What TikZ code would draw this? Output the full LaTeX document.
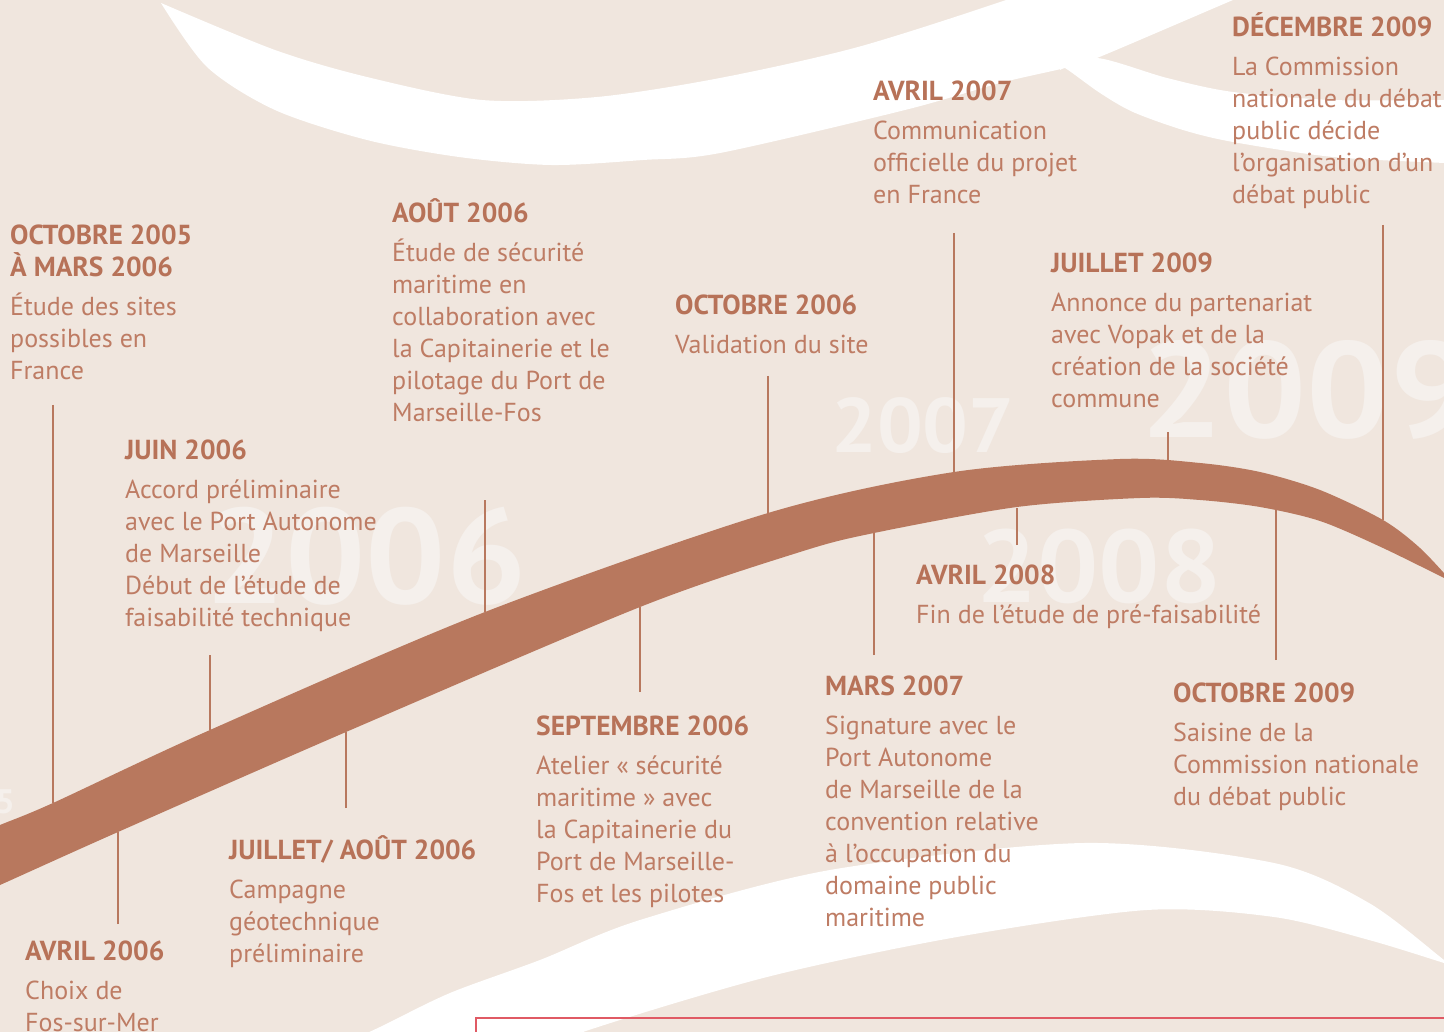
\documentclass[tikz,border=0pt]{standalone}
\usepackage{fontspec}
\setmainfont{PT Sans}
\usepackage{xcolor}
\definecolor{paper}{RGB}{240,230,222}
\definecolor{ribbon}{RGB}{184,120,94}
\definecolor{headtxt}{RGB}{183,114,88}
\definecolor{bodytxt}{RGB}{190,124,100}
\definecolor{ghost}{RGB}{245,240,236}
\definecolor{frame}{RGB}{224,90,100}
\newcommand{\evhead}[1]{\textcolor{headtxt}{\fontsize{27.5}{32}\selectfont\textbf{#1}}}
\newcommand{\wideyear}[1]{\scalebox{1.05}[1]{#1}}

\begin{document}
\begin{tikzpicture}[
    x=1pt, y=-1pt,
    % anchored at the baseline of the LAST line of each block
    evt/.style={anchor=base west, inner sep=0pt, align=left, text=bodytxt,
                font=\fontsize{26}{32}\selectfont},
    tick/.style={draw=ribbon, line width=1.4pt},
    year/.style={anchor=base west, inner sep=0pt, text=ghost,
                 font=\fontsize{#1}{#1}\selectfont\bfseries},
    swoosh/.style={fill=white, draw=none}
]

\useasboundingbox (0,0) rectangle (1444,1032);
\fill[paper] (0,0) rectangle (1444,1032);
\clip (0,0) rectangle (1444,1032);

% white swooshes
\fill[swoosh] plot[smooth] coordinates {(161,3) (275,50) (367,77) (482,100) (597,97) (720,78) (858,47) (1006,0) (1030,-12)}
    -- plot[smooth] coordinates {(1262,-12) (1233,0) (1097,58) (1065,68) (1000,83) (905,110) (720,153) (643,160) (551,165) (459,157) (367,140) (275,110) (207,67) (161,3)} -- cycle;
\fill[swoosh] plot[smooth] coordinates {(1060,70) (1097,58) (1167,78) (1233,92) (1333,100) (1444,100) (1460,100)}
    -- plot[smooth] coordinates {(1460,164) (1444,163) (1333,157) (1233,142) (1183,130) (1133,112) (1100,93) (1065,68) (1060,70)} -- cycle;
\fill[swoosh] plot[smooth] coordinates {(330,1050) (380,1027) (450,993) (540,960) (640,920) (830,870) (1084,843) (1274,863) (1369,903) (1444,960) (1452,966)}
    -- plot[smooth] coordinates {(1452,966) (1444,963) (1369,940) (1274,917) (1147,910) (957,937) (767,977) (583,1032) (540,1055)} -- cycle;

% year watermarks
\node[year=135] (y2006) at (205,603) {\wideyear{2006}};
\node[year=77] (y2007) at (831,452) {\wideyear{2007}};
\node[year=103] (y2008) at (976,602) {\wideyear{2008}};
\node[year=136] (y2009) at (1140,438) {\scalebox{1.08}[1]{2009}};
\node[year=34, anchor=base east] (y2005) at (15,813) {2005};

% the timeline ribbon
\fill[ribbon] plot[smooth] coordinates {(-30,838) (0,825) (53,803) (210,730) (485,612) (768,513) (954,472) (1120,459) (1200,463) (1260,472) (1320,490) (1383,520) (1420,548) (1452,582)}
    -- plot[smooth] coordinates {(1452,582) (1383,548) (1320,521) (1260,507) (1200,500) (1140,498) (1017,507) (874,533) (800,552) (640,607) (346,732) (118,832) (0,885) (-30,898)} -- cycle;

% ticks from each event to the ribbon
\foreach \n/\x/\ya/\yb in {oct05/53/405/803, avr06/118/924/832, juin06/210/655/730,
    jaout06/346/808/732, aout06/485/500/612, sept06/640/692/607, oct06/768/376/513,
    mars07/874/655/533, avr07/954/233/472, avr08/1017/545/508, juil09/1168/432/462,
    oct09/1276/660/510, dec09/1383/225/520} {
  \coordinate (\n-end) at (\x,\ya);
  \coordinate (\n-band) at (\x,\yb);
  \draw[tick] (\n-end) -- (\n-band);
}

% events above the ribbon
\node[evt] (oct05) at (10,380) {\evhead{OCTOBRE 2005}\\\evhead{À MARS 2006}\\[7pt]Étude des sites\\possibles en\\France};
\node[evt] (juin06) at (125,626) {\evhead{JUIN 2006}\\[7pt]Accord préliminaire\\avec le Port Autonome\\de Marseille\\Début de l’étude de\\faisabilité technique};
\node[evt] (aout06) at (392,421) {\evhead{AOÛT 2006}\\[7pt]Étude de sécurité\\maritime en\\collaboration avec\\la Capitainerie et le\\pilotage du Port de\\Marseille-Fos};
\node[evt] (oct06) at (675,354) {\evhead{OCTOBRE 2006}\\[7pt]Validation du site};
\node[evt] (avr07) at (873,204) {\evhead{AVRIL 2007}\\[7pt]Communication\\officielle du projet\\en France};
\node[evt] (juil09) at (1051,407) {\evhead{JUILLET 2009}\\[7pt]Annonce du partenariat\\avec Vopak et de la\\création de la société\\commune};
\node[evt] (dec09) at (1232,204) {\evhead{DÉCEMBRE 2009}\\[7pt]La Commission\\nationale du débat\\public décide\\l’organisation d’un\\débat public};

% events below the ribbon
\node[evt] (avr06) at (25,1031) {\evhead{AVRIL 2006}\\[7pt]Choix de\\Fos-sur-Mer};
\node[evt] (jaout06) at (229,962) {\evhead{JUILLET/ AOÛT 2006}\\[7pt]Campagne\\géotechnique\\préliminaire};
\node[evt] (sept06) at (536,902) {\evhead{SEPTEMBRE 2006}\\[7pt]Atelier « sécurité\\maritime » avec\\la Capitainerie du\\Port de Marseille-\\Fos et les pilotes};
\node[evt] (mars07) at (825,926) {\evhead{MARS 2007}\\[7pt]Signature avec le\\Port Autonome\\de Marseille de la\\convention relative\\à l’occupation du\\domaine public\\maritime};
\node[evt] (avr08) at (916,623) {\evhead{AVRIL 2008}\\[7pt]Fin de l’étude de pré-faisabilité};
\node[evt] (oct09) at (1173,805) {\evhead{OCTOBRE 2009}\\[7pt]Saisine de la\\Commission nationale\\du débat public};

% corner of the frame below
\coordinate (frame-in) at (476,1040);
\coordinate (frame-out) at (1460,1018);
\draw[frame, line width=1.5pt] (frame-in) |- (frame-out);

\end{tikzpicture}
\end{document}
